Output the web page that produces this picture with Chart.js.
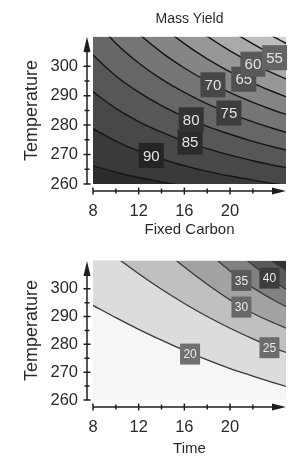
<!DOCTYPE html>
<html>
<head>
<meta charset="utf-8">
<script src="https://cdn.jsdelivr.net/npm/chart.js@4.4.1/dist/chart.umd.min.js"></script>
<style>
  html, body { margin: 0; padding: 0; background: #fff; }
  #wrap { position: relative; width: 295px; height: 471px; overflow: hidden; }
  canvas { position: absolute; left: 0; }
  #yield-chart { top: 0; }
  #carbon-chart { top: 236px; }
</style>
</head>
<body>
<div id="wrap">
  <canvas id="yield-chart" width="295" height="240"></canvas>
  <canvas id="carbon-chart" width="295" height="235"></canvas>
</div>
<script>
// x positions where every contour line is sampled
const xGrid = [8, 10, 12, 14, 16, 18, 20, 22, 24, 26];

// Mass Yield contours (Temperature at each xGrid value), lowest line first
const yieldLevels = [95, 90, 85, 80, 75, 70, 65, 60, 55, 50];
const yield95 = [266.2, 264.0, 262.2, 260.7, 259.4, 258.3, 257.3, 256.5, 255.8, 255.1];
const yield90 = [278.8, 274.6, 271.2, 268.5, 266.2, 264.3, 262.7, 261.3, 260.0, 258.9];
const yield85 = [291.3, 285.7, 281.2, 277.6, 274.5, 272.0, 269.8, 267.9, 266.2, 264.8];
const yield80 = [303.8, 296.7, 291.2, 286.6, 282.8, 279.6, 276.9, 274.5, 272.4, 270.6];
const yield75 = [316.3, 307.8, 301.1, 295.6, 291.1, 287.2, 284.0, 281.1, 278.6, 276.4];
const yield70 = [328.8, 318.9, 311.1, 304.7, 299.4, 294.9, 291.0, 287.7, 284.8, 282.3];
const yield65 = [341.3, 330.0, 321.0, 313.7, 307.7, 302.5, 298.1, 294.3, 291.0, 288.1];
const yield60 = [353.8, 341.1, 331.0, 322.8, 315.9, 310.2, 305.2, 300.9, 297.2, 293.9];
const yield55 = [366.3, 352.2, 341.0, 331.8, 324.2, 317.8, 312.3, 307.6, 303.4, 299.7];
const yield50 = [378.8, 363.3, 350.9, 340.9, 332.5, 325.4, 319.4, 314.2, 309.6, 305.6];

// Mass Yield in-line labels
const yieldLabelX = [13.1, 16.5, 16.6, 19.9, 18.5, 21.2, 22.0, 23.9];
const yieldLabelY = [269.7, 274.2, 281.8, 284.1, 293.7, 295.6, 300.7, 302.9];
const yieldLabelText = ['90', '85', '80', '75', '70', '65', '60', '55'];

// Fixed Carbon contours, lowest line first
const carbonLevels = [20, 25, 30, 35, 40, 45];
const carbon20 = [294.0, 289.6, 285.4, 281.5, 277.8, 274.4, 271.3, 268.6, 266.0, 263.6];
const carbon25 = [317.5, 311.4, 305.4, 299.8, 294.7, 290.0, 285.8, 282.0, 278.5, 275.5];
const carbon30 = [338.0, 329.0, 321.5, 314.5, 307.8, 301.6, 296.0, 291.2, 287.4, 284.0];
const carbon35 = [355.0, 345.0, 336.0, 328.0, 320.5, 313.3, 306.4, 300.4, 295.5, 291.5];
const carbon40 = [368.0, 358.0, 349.0, 340.0, 331.0, 323.0, 315.5, 308.5, 302.2, 297.0];
const carbon45 = [392.0, 380.0, 368.0, 356.0, 344.0, 333.0, 323.0, 315.0, 309.0, 304.0];

const carbonLabelX = [16.5, 23.45, 21.0, 21.0, 23.45];
const carbonLabelY = [276.5, 278.8, 293.4, 303.0, 303.8];
const carbonLabelText = ['20', '25', '30', '35', '40'];

// axes
const xTickValues = [8, 12, 16, 20];
const xMinorTicks = [8, 10, 12, 14, 16, 18, 20, 22];
const yTickValues = [260, 270, 280, 290, 300];
const yMinorTicks = [260, 265, 270, 275, 280, 285, 290, 295, 300, 305];

const FONT = "'Liberation Sans', Arial, sans-serif";
const TEXT = '#2a2a2a';

// fill colours, region under first line first, last one is the background above the top line
const yieldFills = ['#2c2c2c', '#3a3a3a', '#484848', '#575757', '#666666', '#757575',
                    '#858585', '#979797', '#aaaaaa', '#bebebe', '#d4d4d4'];
const yieldBoxes = ['#242424', '#2b2b2b', '#333333', '#3d3d3d', '#474747', '#505050', '#595959', '#646464'];
const carbonFills = ['#f6f6f6', '#dcdcdc', '#c0c0c0', '#a2a2a2', '#818181', '#5a5a5a', '#333333'];
const carbonBoxes = ['#707070', '#6c6c6c', '#686868', '#5a5a5a', '#3c3c3c'];

function contourSets(lines, fills, lineColor, width) {
  return lines.map((ys, i) => ({
    data: ys.map((y, k) => ({ x: xGrid[k], y: y })),
    borderColor: lineColor,
    borderWidth: width,
    backgroundColor: fills[i],
    fill: i === 0 ? 'start' : '-1',
    pointRadius: 0,
    cubicInterpolationMode: 'monotone'
  }));
}

// paints the area above the highest contour, before anything else
const areaBackground = {
  id: 'areaBackground',
  beforeDraw(chart, args, opts) {
    const a = chart.chartArea;
    chart.ctx.save();
    chart.ctx.fillStyle = opts.color;
    chart.ctx.fillRect(a.left, a.top, a.right - a.left, a.bottom - a.top);
    chart.ctx.restore();
  }
};

// offset axes with arrow heads and small crossing ticks
const axisArrows = {
  id: 'axisArrows',
  afterDraw(chart) {
    const { ctx, chartArea: a, scales: { x, y } } = chart;
    const ax = a.left - 6, ay = a.bottom + 7;
    ctx.save();
    ctx.strokeStyle = '#1e1e1e';
    ctx.fillStyle = '#1e1e1e';
    ctx.lineWidth = 1.5;
    ctx.beginPath();
    ctx.moveTo(ax, y.getPixelForValue(260));
    ctx.lineTo(ax, a.top + 8);
    ctx.moveTo(x.getPixelForValue(8), ay);
    ctx.lineTo(a.right - 8, ay);
    yMinorTicks.forEach(v => {
      const p = y.getPixelForValue(v), h = v % 10 === 0 ? 3.5 : 2.5;
      ctx.moveTo(ax - h, p); ctx.lineTo(ax + h, p);
    });
    xMinorTicks.forEach(v => {
      const p = x.getPixelForValue(v), h = v % 4 === 0 ? 3.5 : 2.5;
      ctx.moveTo(p, ay - h); ctx.lineTo(p, ay + h);
    });
    ctx.stroke();
    ctx.beginPath();
    ctx.moveTo(ax, a.top);
    ctx.lineTo(ax - 3.5, a.top + 15);
    ctx.lineTo(ax + 3.5, a.top + 15);
    ctx.closePath();
    ctx.moveTo(a.right, ay);
    ctx.lineTo(a.right - 14, ay - 3.5);
    ctx.lineTo(a.right - 14, ay + 3.5);
    ctx.closePath();
    ctx.fill();
    ctx.restore();
  }
};

// boxed contour level labels
const contourLabels = {
  id: 'contourLabels',
  afterDatasetsDraw(chart, args, o) {
    const { ctx, scales: { x, y } } = chart;
    ctx.save();
    ctx.font = o.fontSize + 'px ' + FONT;
    ctx.textAlign = 'center';
    ctx.textBaseline = 'middle';
    o.text.forEach((t, i) => {
      const px = x.getPixelForValue(o.xs[i]), py = y.getPixelForValue(o.ys[i]);
      ctx.fillStyle = o.boxes[i];
      ctx.fillRect(px - o.w / 2, py - o.h / 2, o.w, o.h);
      ctx.fillStyle = o.textColor;
      ctx.fillText(t, px, py + 1);
    });
    ctx.restore();
  }
};

function makeScales(xTitle, xHeight, titlePadBottom) {
  return {
    x: {
      type: 'linear', min: 8, max: 24.9,
      grid: { display: false, drawTicks: false },
      border: { display: false },
      afterBuildTicks: s => { s.ticks = xTickValues.map(v => ({ value: v })); },
      afterFit: s => { s.height = xHeight; },
      ticks: { padding: 18, color: TEXT, autoSkip: false, maxRotation: 0, font: { family: FONT, size: 16.5 } },
      title: { display: true, text: xTitle, color: TEXT, font: { family: FONT, size: 15 },
               padding: { top: 0, bottom: titlePadBottom } }
    },
    y: {
      type: 'linear', min: 260, max: 310,
      grid: { display: false, drawTicks: false },
      border: { display: false },
      afterBuildTicks: s => { s.ticks = yTickValues.map(v => ({ value: v })); },
      afterFit: s => { s.width = 93; },
      ticks: { padding: 15, color: TEXT, font: { family: FONT, size: 16.5 } },
      title: { display: true, text: 'Temperature', color: TEXT, font: { family: FONT, size: 18 },
               padding: { top: 21, bottom: 0 } }
    }
  };
}

new Chart(document.getElementById('yield-chart'), {
  type: 'line',
  data: {
    datasets: contourSets([yield95, yield90, yield85, yield80, yield75, yield70, yield65, yield60, yield55, yield50],
                          yieldFills, '#151515', 1.4)
  },
  options: {
    responsive: false,
    animation: false,
    events: [],
    layout: { padding: { top: 0, right: 9, bottom: 0, left: 0 } },
    scales: makeScales('Fixed Carbon', 56, 1),
    plugins: {
      legend: { display: false },
      tooltip: { enabled: false },
      filler: { drawTime: 'beforeDatasetsDraw' },
      title: { display: true, text: 'Mass Yield', color: TEXT, fullSize: false,
               font: { family: FONT, size: 14, weight: 'normal' }, padding: { top: 11, bottom: 9 } },
      areaBackground: { color: yieldFills[yieldFills.length - 1] },
      contourLabels: { xs: yieldLabelX, ys: yieldLabelY, text: yieldLabelText, boxes: yieldBoxes,
                       w: 25, h: 25, fontSize: 15, textColor: '#e4e4e4' }
    }
  },
  plugins: [areaBackground, axisArrows, contourLabels]
});

new Chart(document.getElementById('carbon-chart'), {
  type: 'line',
  data: {
    datasets: contourSets([carbon20, carbon25, carbon30, carbon35, carbon40, carbon45],
                          carbonFills, '#3a3a3a', 1.3)
  },
  options: {
    responsive: false,
    animation: false,
    events: [],
    layout: { padding: { top: 16, right: 9, bottom: 0, left: 0 } },
    scales: makeScales('Time', 71, 13),
    plugins: {
      legend: { display: false },
      tooltip: { enabled: false },
      filler: { drawTime: 'beforeDatasetsDraw' },
      areaBackground: { color: carbonFills[carbonFills.length - 1] },
      contourLabels: { xs: carbonLabelX, ys: carbonLabelY, text: carbonLabelText, boxes: carbonBoxes,
                       w: 20, h: 21, fontSize: 12, textColor: '#ececec' }
    }
  },
  plugins: [areaBackground, axisArrows, contourLabels]
});
</script>
</body>
</html>
